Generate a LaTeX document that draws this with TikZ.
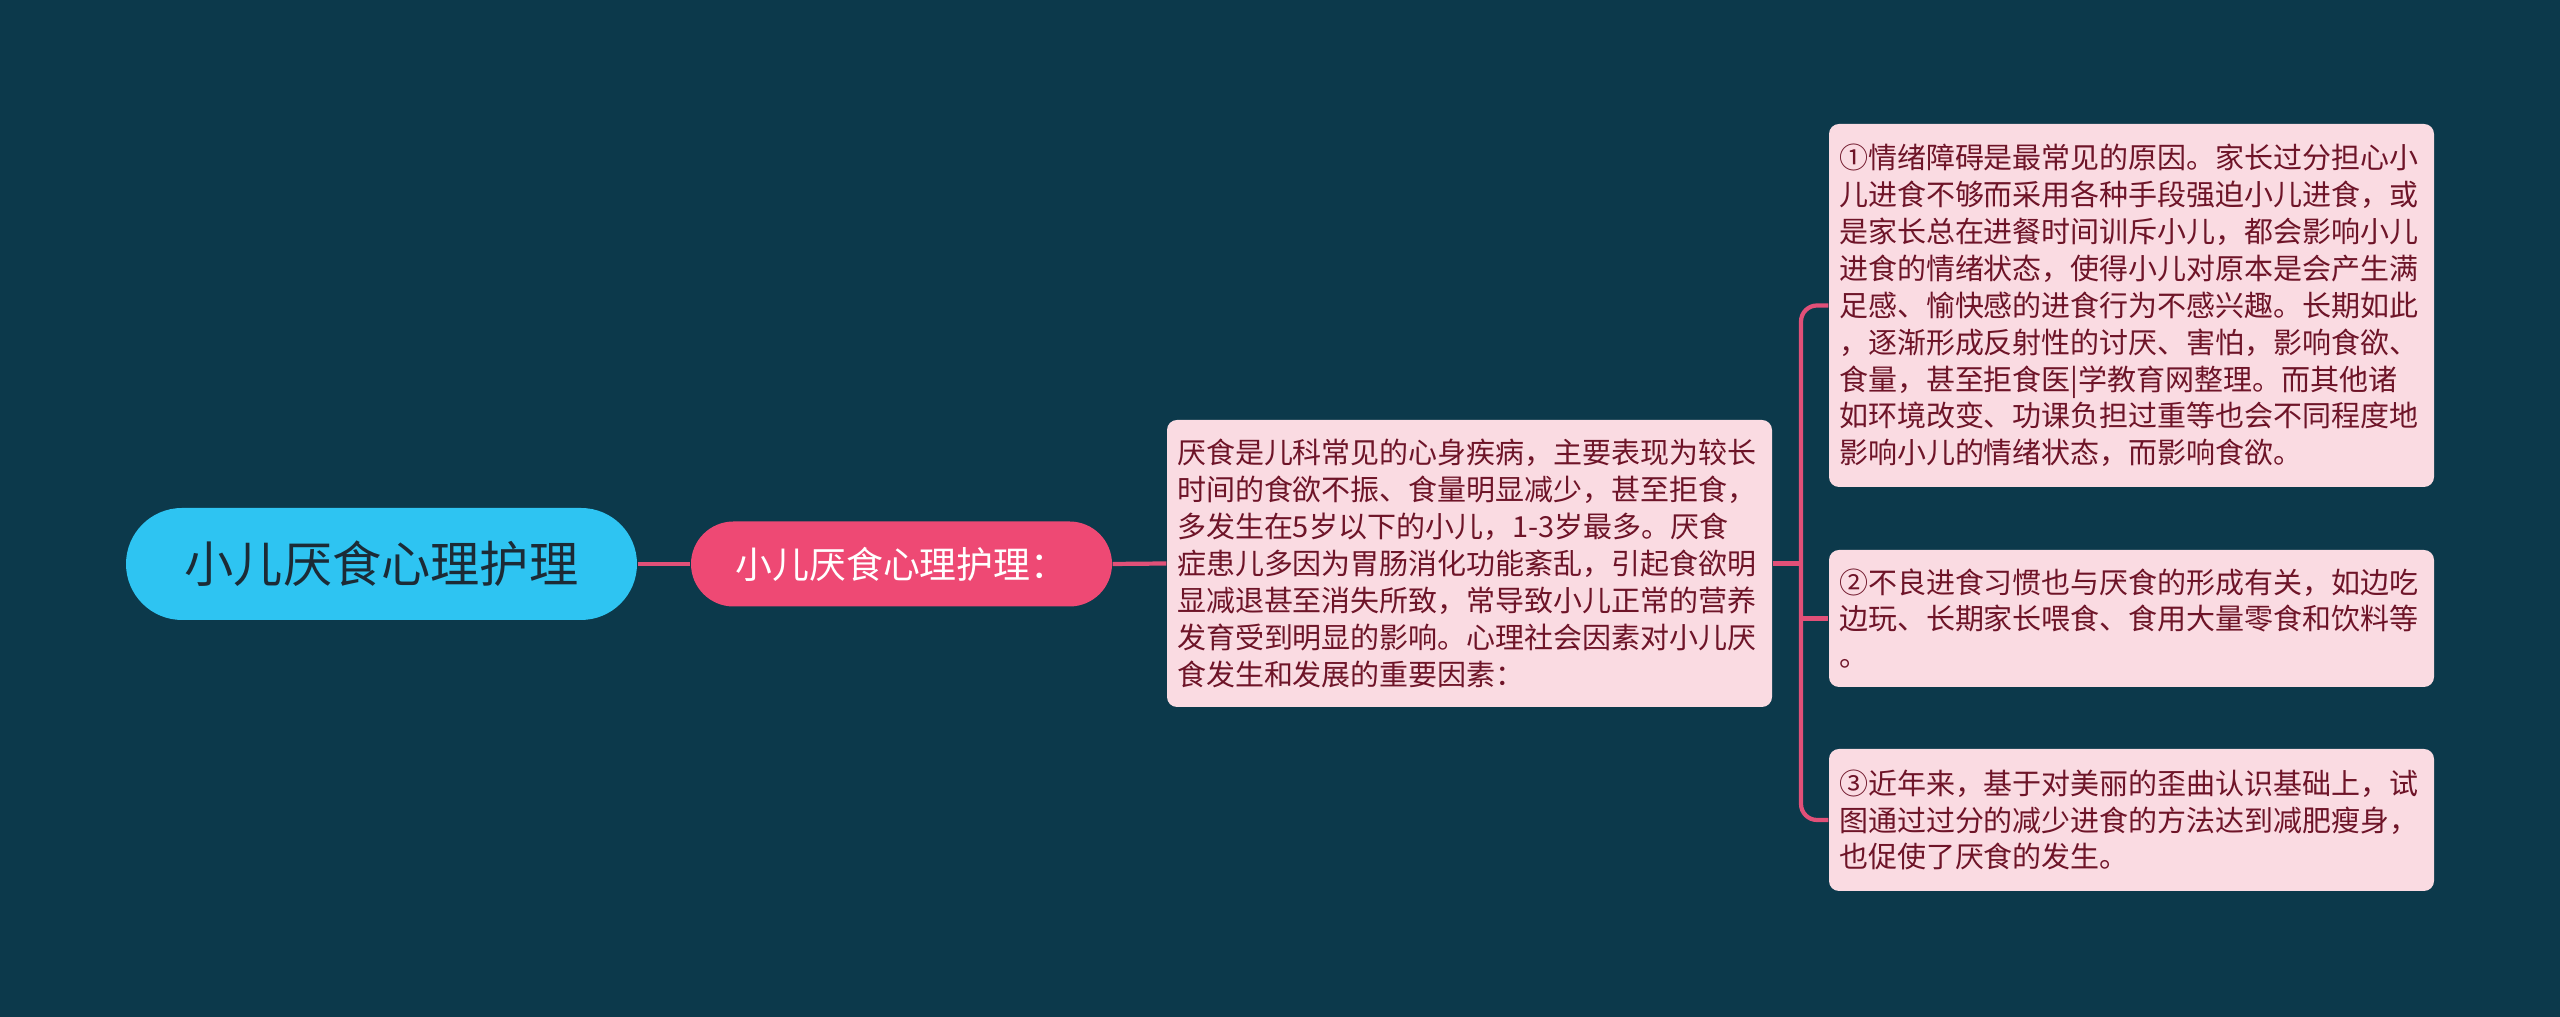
\documentclass[tikz,border=0pt]{standalone}
\usepackage{fontspec}
\setmainfont{Noto Sans CJK SC}
\usetikzlibrary{positioning}

\definecolor{bgteal}{RGB}{12,57,75}
\definecolor{rootblue}{RGB}{46,196,242}
\definecolor{rootink}{RGB}{28,43,54}
\definecolor{subrose}{RGB}{238,73,116}
\definecolor{linkrose}{RGB}{225,80,120}
\definecolor{notepink}{RGB}{250,219,226}
\definecolor{noteink}{RGB}{110,20,40}

\begin{document}
\begin{tikzpicture}[
    topic/.style={fill=rootblue, text=rootink, rounded corners=0.56cm,
      minimum width=5.11cm, minimum height=1.12cm,
      font=\fontsize{14}{17}\selectfont},
    subtopic/.style={fill=subrose, text=white, rounded corners=0.425cm,
      minimum width=4.21cm, minimum height=0.85cm,
      font=\fontsize{10.5}{13}\selectfont},
    note/.style={fill=notepink, text=noteink, rounded corners=0.1cm,
      text width=5.85cm, align=left, inner xsep=0.1cm, inner ysep=0pt,
      font=\fontsize{8.25}{10.5}\selectfont},
    link/.style={-, linkrose, line width=1.2pt}]

    \fill[bgteal] (0,0) rectangle (25.6,10.17);
    \useasboundingbox (0,0) rectangle (25.6,10.17);

    \node(root) at (3.815,4.53) [topic] {小儿厌食心理护理};
    \node(sub) at (9.015,4.53) [subtopic] {小儿厌食心理护理：};

    \node(desc) at (14.695,4.535) [note, minimum height=2.87cm] {厌食是儿科常见的心身疾病，主要表现为较长\\
      时间的食欲不振、食量明显减少，甚至拒食，\\
      多发生在5岁以下的小儿，1-3岁最多。厌食\\
      症患儿多因为胃肠消化功能紊乱，引起食欲明\\
      显减退甚至消失所致，常导致小儿正常的营养\\
      发育受到明显的影响。心理社会因素对小儿厌\\
      食发生和发展的重要因素：};

    \node(cause1) at (21.315,7.115) [note, minimum height=3.63cm] {①情绪障碍是最常见的原因。家长过分担心小\\
      儿进食不够而采用各种手段强迫小儿进食，或\\
      是家长总在进餐时间训斥小儿，都会影响小儿\\
      进食的情绪状态，使得小儿对原本是会产生满\\
      足感、愉快感的进食行为不感兴趣。长期如此\\
      ，逐渐形成反射性的讨厌、害怕，影响食欲、\\
      食量，甚至拒食医|学教育网整理。而其他诸\\
      如环境改变、功课负担过重等也会不同程度地\\
      影响小儿的情绪状态，而影响食欲。};
    \node(cause2) at (21.315,3.985) [note, minimum height=1.37cm] {②不良进食习惯也与厌食的形成有关，如边吃\\
      边玩、长期家长喂食、食用大量零食和饮料等\\
      。};
    \node(cause3) at (21.315,1.97) [note, minimum height=1.42cm] {③近年来，基于对美丽的歪曲认识基础上，试\\
      图通过过分的减少进食的方法达到减肥瘦身，\\
      也促使了厌食的发生。};

    \coordinate(bus) at (18.01,4.535);

    \draw (root.east) edge[link] (sub.west);
    \draw (sub.east) edge[link] (desc.west);
    \draw[link] (desc.east) -- (bus);
    \draw[link, rounded corners=0.16cm] (cause1.west) -| (bus) |- (cause3.west);
    \draw[link] (bus |- cause2.west) -- (cause2.west);
\end{tikzpicture}
\end{document}
